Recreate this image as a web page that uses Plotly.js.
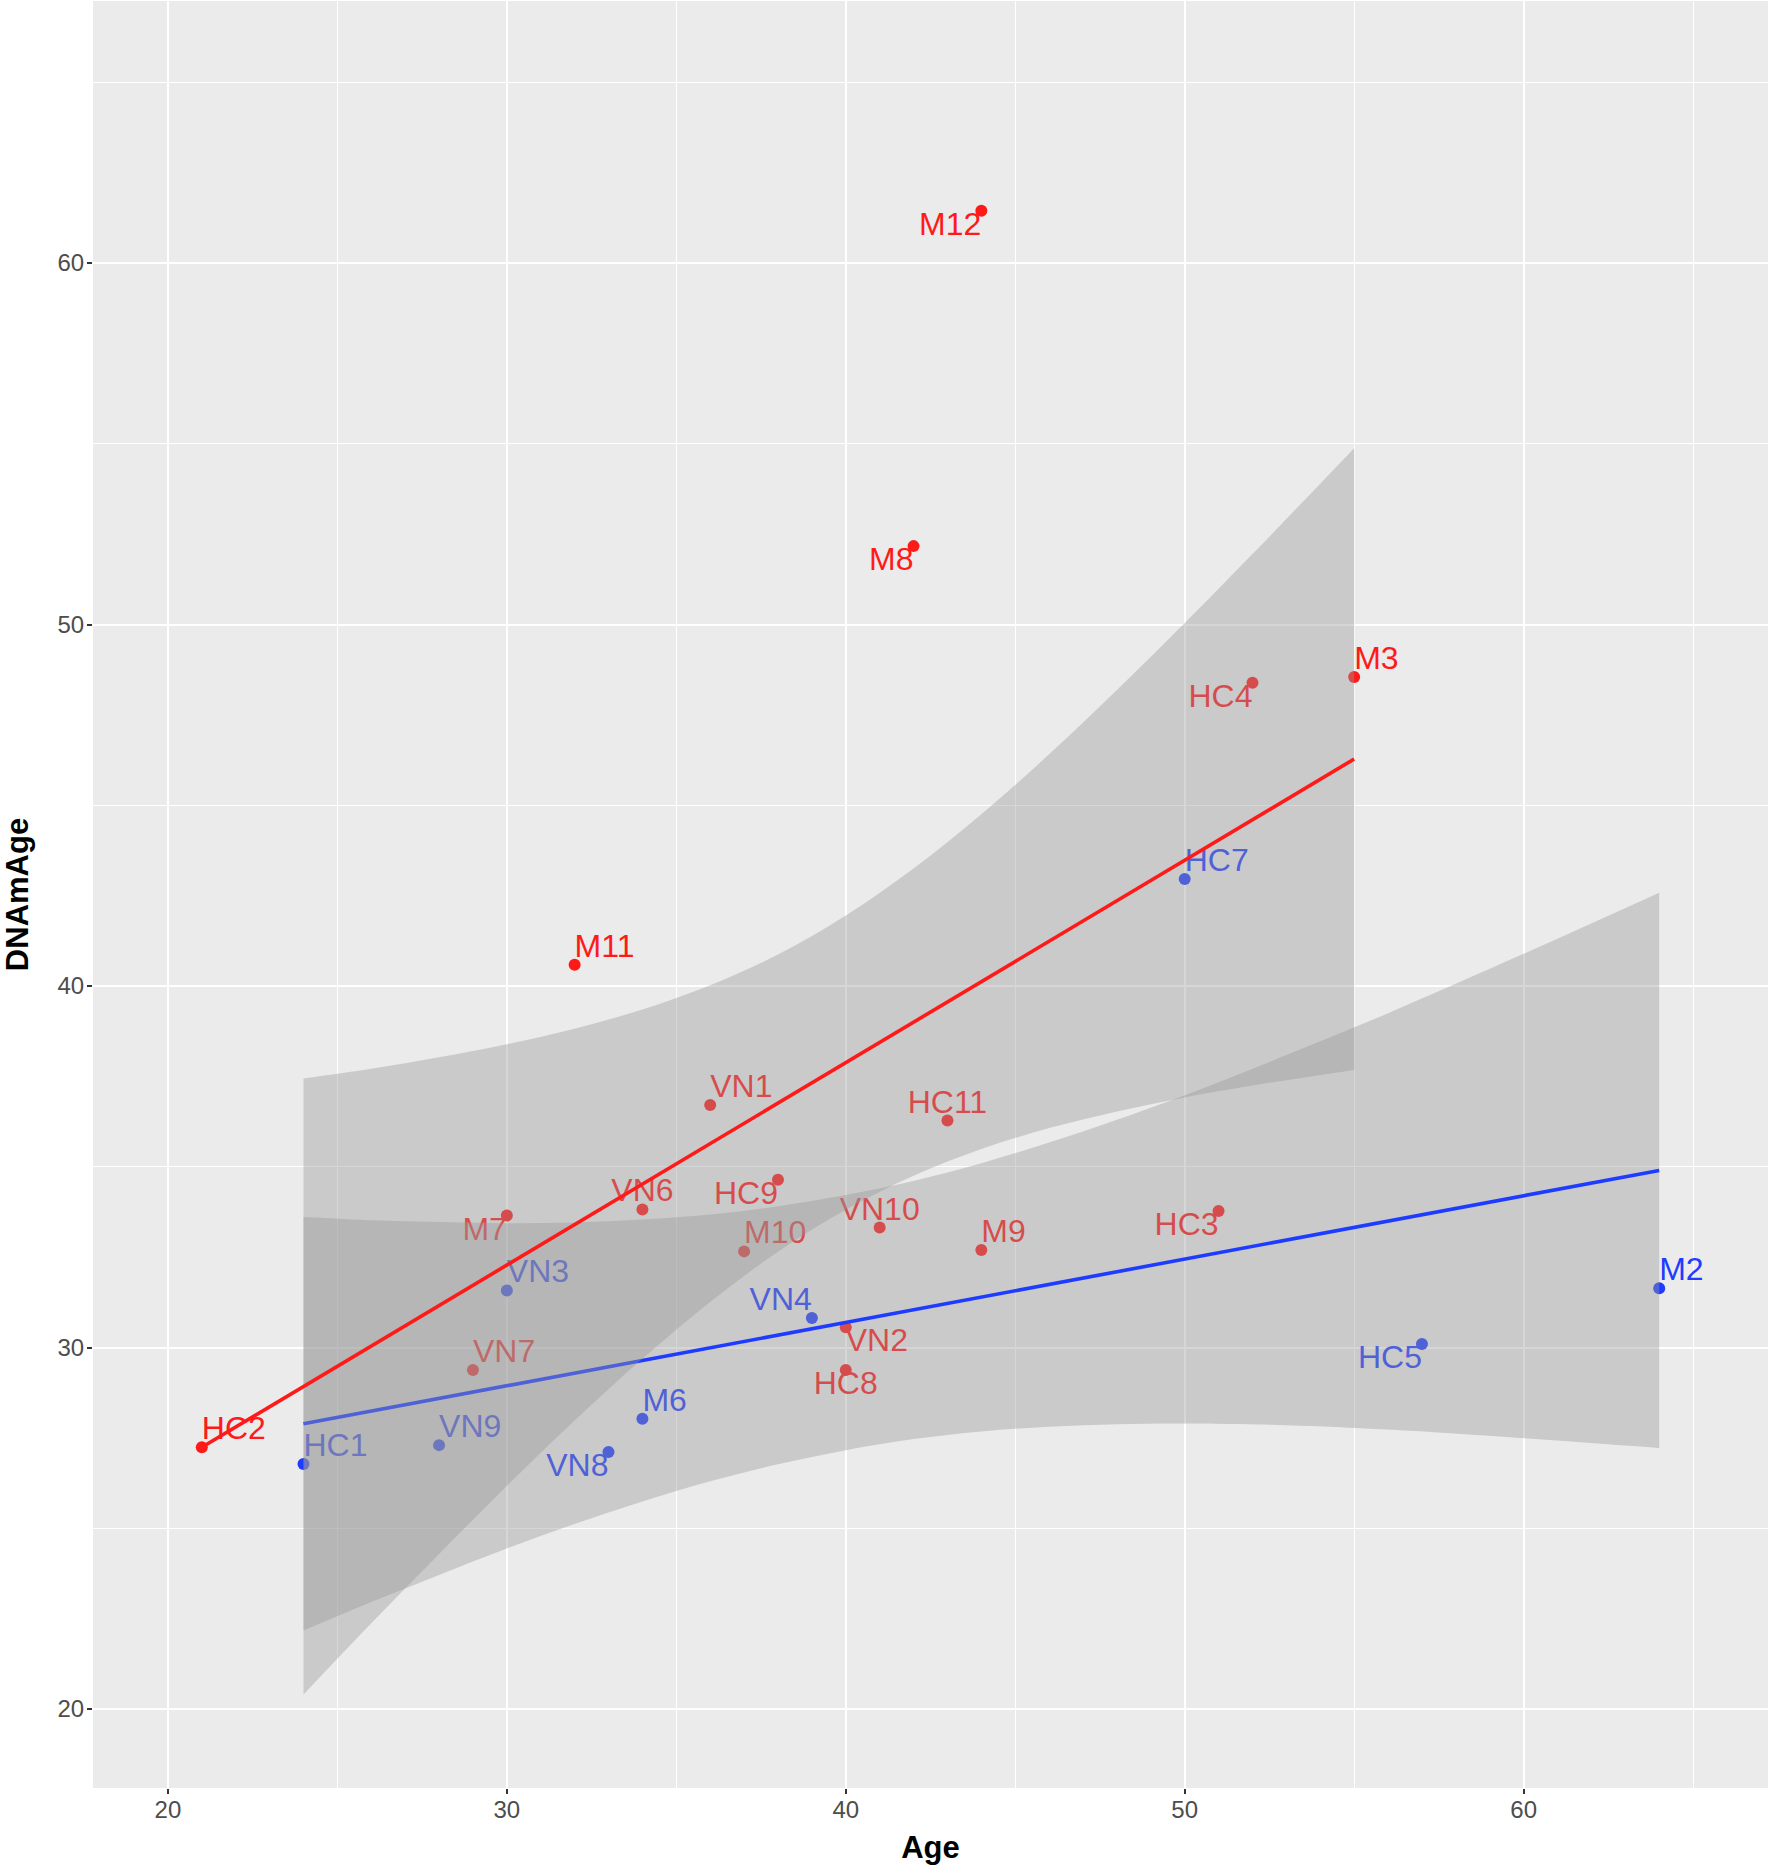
<!DOCTYPE html>
<html>
<head>
<meta charset="utf-8">
<script src="https://cdn.plot.ly/plotly-3.0.1.min.js"></script>
<style>
  html, body { margin: 0; padding: 0; background: #ffffff; }
  #chart { width: 1770px; height: 1865px; }
</style>
</head>
<body>
<div id="chart"></div>
<script>
// samples, coloured by group
const redLabels = ["M12", "M8", "M3", "HC4", "M11", "VN1", "HC11", "HC9", "VN6", "M7",
    "VN10", "HC3", "M10", "M9", "VN2", "VN7", "HC8", "HC2"];
const redAge = [44, 42, 55, 52, 32, 36, 43, 38, 34, 30, 41, 51, 37, 44, 40, 29, 40, 21];
const redDNAmAge = [61.45, 52.17, 48.55, 48.39, 40.59, 36.71, 36.28, 34.64, 33.82, 33.65,
    33.32, 33.78, 32.66, 32.70, 30.56, 29.38, 29.38, 27.24];

const blueLabels = ["HC7", "VN3", "VN4", "M2", "HC5", "M6", "VN9", "VN8", "HC1"];
const blueAge = [50, 30, 39, 64, 57, 34, 28, 33, 24];
const blueDNAmAge = [42.96, 31.58, 30.82, 31.64, 30.10, 28.03, 27.30, 27.11, 26.78];

// fitted lines (end points) and confidence bands
const redFitAge = [21, 55];
const redFit = [27.24, 46.28];
const redBandAge = [24, 26, 28, 30, 32, 34, 36, 38, 40, 42, 44, 46, 48, 50, 52, 55];
const redBandUpper = [37.44, 37.71, 38.03, 38.39, 38.82, 39.35, 40.02, 40.87, 41.95, 43.25,
    44.75, 46.41, 48.19, 50.04, 51.95, 54.88];
const redBandLower = [20.40, 22.37, 24.29, 26.17, 27.98, 29.69, 31.26, 32.65, 33.81, 34.75,
    35.49, 36.07, 36.53, 36.92, 37.25, 37.68];

const blueFitAge = [24, 64];
const blueFit = [27.89, 34.90];
const blueBandAge = [24, 26, 28, 30, 32, 34, 36, 38, 40, 42, 44, 46, 48, 50, 53, 56, 60, 64];
const blueBandUpper = [33.61, 33.52, 33.47, 33.44, 33.46, 33.54, 33.68, 33.91, 34.22, 34.61,
    35.10, 35.67, 36.30, 36.98, 38.09, 39.25, 40.89, 42.58];
const blueBandLower = [22.17, 22.96, 23.71, 24.44, 25.12, 25.74, 26.30, 26.77, 27.16, 27.47,
    27.68, 27.81, 27.88, 27.90, 27.85, 27.73, 27.49, 27.22];

const RED = "#ff1a1a";
const BLUE = "#1e3cff";
const BAND = "rgba(153,153,153,0.4)";
const FONT = "Liberation Sans, Arial, sans-serif";

// where each label sits relative to its point (like ggrepel did it)
const redTextPos = ["bottom left", "bottom left", "top right", "bottom left", "top right",
    "top right", "top center", "bottom left", "top center", "bottom left", "top center",
    "bottom left", "top right", "top right", "bottom right", "top right", "bottom center",
    "top right"];
const blueTextPos = ["top right", "top right", "top left", "top right", "bottom left",
    "top right", "top right", "bottom left", "top right"];

function pointTrace(xs, ys, color) {
    return {
        x: xs, y: ys, type: "scatter", mode: "markers",
        marker: {color: color, size: 12, line: {width: 0}},
        hoverinfo: "skip"
    };
}

function labelTrace(xs, ys, labels, pos, color) {
    return {
        x: xs, y: ys, type: "scatter", mode: "text",
        text: labels, textposition: pos,
        textfont: {family: FONT, size: 32, color: color},
        hoverinfo: "skip", cliponaxis: false
    };
}

function bandTraces(xs, lower, upper) {
    return [
        {x: xs, y: lower, type: "scatter", mode: "lines",
            line: {width: 0, shape: "spline"}, hoverinfo: "skip"},
        {x: xs, y: upper, type: "scatter", mode: "lines", fill: "tonexty",
            fillcolor: BAND, line: {width: 0, shape: "spline"}, hoverinfo: "skip"}
    ];
}

function fitTrace(xs, ys, color) {
    return {
        x: xs, y: ys, type: "scatter", mode: "lines",
        line: {color: color, width: 3.6}, hoverinfo: "skip"
    };
}

const data = [
    pointTrace(redAge, redDNAmAge, RED),
    pointTrace(blueAge, blueDNAmAge, BLUE),
    labelTrace(redAge, redDNAmAge, redLabels, redTextPos, RED),
    labelTrace(blueAge, blueDNAmAge, blueLabels, blueTextPos, BLUE),
    ...bandTraces(blueBandAge, blueBandLower, blueBandUpper),
    fitTrace(blueFitAge, blueFit, BLUE),
    ...bandTraces(redBandAge, redBandLower, redBandUpper),
    fitTrace(redFitAge, redFit, RED)
];

const axisCommon = {
    showgrid: true, gridcolor: "#ffffff", gridwidth: 2,
    minor: {dtick: 5, tick0: 0, showgrid: true, gridcolor: "#ffffff", gridwidth: 1},
    dtick: 10, tick0: 0,
    ticks: "outside", ticklen: 5, tickwidth: 2, tickcolor: "#333333",
    tickfont: {family: FONT, size: 24, color: "#4d4d4d"},
    zeroline: false, showline: false, automargin: false
};

const layout = {
    width: 1770, height: 1865,
    margin: {l: 93, r: 2, t: 1, b: 77},
    paper_bgcolor: "#ffffff",
    plot_bgcolor: "#ebebeb",
    showlegend: false,
    font: {family: FONT},
    xaxis: Object.assign({}, axisCommon, {
        range: [17.79, 67.21],
        ticklabelstandoff: -5,
        title: {text: "Age", font: {family: FONT, size: 31, weight: "bold", color: "#000000"}, standoff: 14}
    }),
    yaxis: Object.assign({}, axisCommon, {
        range: [17.815, 67.25],
        ticklabelstandoff: -2,
        title: {text: "DNAmAge", font: {family: FONT, size: 31, weight: "bold", color: "#000000"}, standoff: 21}
    })
};

Plotly.newPlot("chart", data, layout, {displayModeBar: false, staticPlot: true});
</script>
</body>
</html>
